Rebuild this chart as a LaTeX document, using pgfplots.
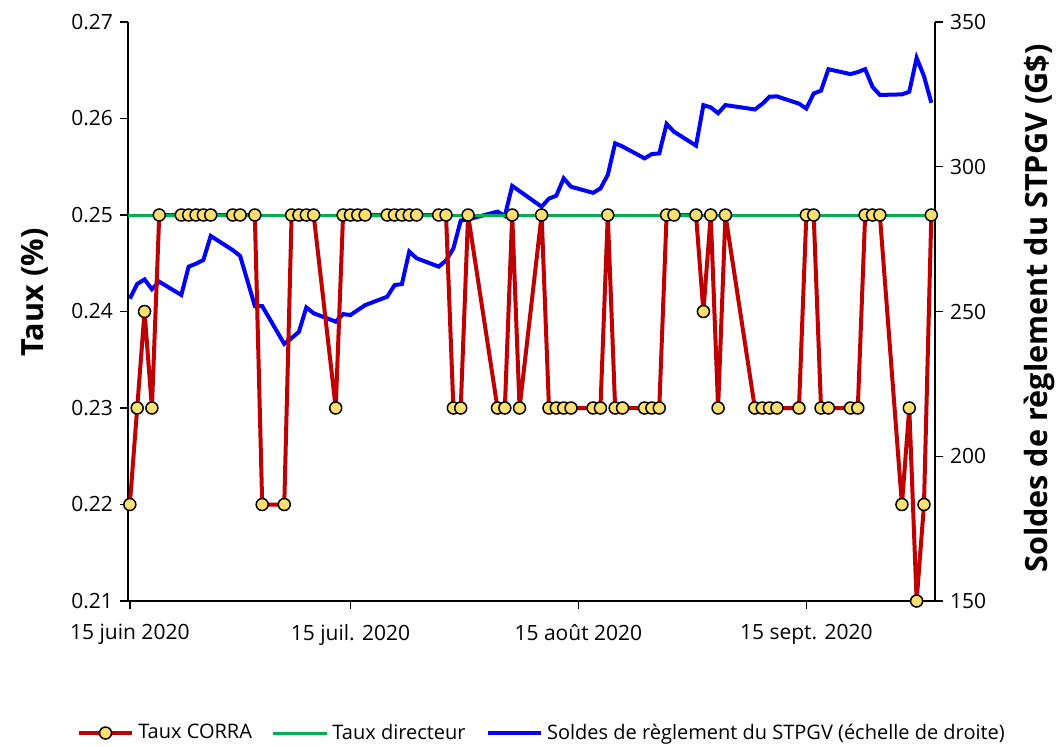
\documentclass[border=0pt]{standalone}
\usepackage{fontspec}
\setmainfont{Open Sans}
\usepackage{pgfplots}
\pgfplotsset{compat=1.18}
\usepackage{pgfplotstable}

\definecolor{corra}{RGB}{192,0,0}
\definecolor{direct}{RGB}{0,176,80}
\definecolor{stpgv}{RGB}{0,0,255}
\definecolor{mk}{RGB}{255,224,110}

% day 0 = 15 June 2020
\pgfplotstableread{
d v
0 0.22
1 0.23
2 0.24
3 0.23
4 0.25
7 0.25
8 0.25
9 0.25
10 0.25
11 0.25
14 0.25
15 0.25
17 0.25
18 0.22
21 0.22
22 0.25
23 0.25
24 0.25
25 0.25
28 0.23
29 0.25
30 0.25
31 0.25
32 0.25
35 0.25
36 0.25
37 0.25
38 0.25
39 0.25
42 0.25
43 0.25
44 0.23
45 0.23
46 0.25
50 0.23
51 0.23
52 0.25
53 0.23
56 0.25
57 0.23
58 0.23
59 0.23
60 0.23
63 0.23
64 0.23
65 0.25
66 0.23
67 0.23
70 0.23
71 0.23
72 0.23
73 0.25
74 0.25
77 0.25
78 0.24
79 0.25
80 0.23
81 0.25
85 0.23
86 0.23
87 0.23
88 0.23
91 0.23
92 0.25
93 0.25
94 0.23
95 0.23
98 0.23
99 0.23
100 0.25
101 0.25
102 0.25
105 0.22
106 0.23
107 0.21
108 0.22
109 0.25
}\corratable

\pgfplotstableread{
d v
0 254.4
1 259.5
2 261.1
3 257.7
4 260.3
7 255.7
8 265.5
9 266.5
10 267.8
11 276.1
14 271.2
15 269.2
17 251.9
18 251.9
21 238.8
22 240.8
23 243.0
24 251.4
25 249.4
28 246.5
29 249.1
30 248.8
31 250.5
32 252.2
35 255.1
36 259.1
37 259.5
38 270.7
39 268.4
42 265.5
43 267.6
44 271.8
45 281.4
46 281.8
50 284.5
51 283.0
52 293.4
53 291.6
56 286.2
57 289.0
58 290.0
59 296.0
60 293.1
63 291.0
64 292.5
65 297.2
66 308.1
67 307.0
70 302.9
71 304.4
72 304.6
73 314.8
74 312.1
77 307.3
78 321.3
79 320.5
80 318.5
81 321.3
85 319.8
86 321.7
87 324.2
88 324.3
91 321.8
92 320.1
93 325.3
94 326.3
95 333.7
98 332.0
99 332.7
100 333.7
101 327.6
102 324.8
105 325.0
106 325.9
107 337.6
108 331.3
109 322.1
}\stpgvtable

\begin{document}
\begin{tikzpicture}[font=\fontsize{10.5}{12}\selectfont]
\useasboundingbox (-64pt,-72.5pt) rectangle (465pt,300.5pt);
\pgfplotsset{common/.style={
  at={(0,0)}, anchor=south west, scale only axis,
  width=403.5pt, height=289.5pt,
  xmin=-0.25, xmax=109.5,
  tick align=outside, major tick length=4pt,
  tick style={black, line width=0.7pt},
  axis line style={black, line width=0.7pt},
  /pgf/number format/assume math mode=true,
  ticklabel style={font=\fontsize{10.5}{12}\selectfont, text=black},
  label style={font=\bfseries\fontsize{15.3}{17}\selectfont},
}}
\begin{axis}[common,
  axis x line=none, axis y line*=right,
  ymin=150, ymax=350, ytick={150,200,250,300,350},
  ylabel={Soldes de règlement du STPGV (G\$)},
  ylabel style={at={(axis description cs:1.13,0.505)}, anchor=center},
]
\addplot[stpgv, line width=2pt, mark=none] table[x=d,y=v]{\stpgvtable};
\end{axis}
\begin{axis}[common,
  axis x line*=bottom, axis y line*=left,
  ymin=0.21, ymax=0.27, ytick={0.21,0.22,0.23,0.24,0.25,0.26,0.27},
  yticklabel style={/pgf/number format/.cd, fixed, fixed zerofill, precision=2},
  xtick={0,30,61,92},
  xticklabels={15 juin 2020, 15 juil. 2020, 15 août 2020, 15 sept. 2020},
  xticklabel style={yshift=-4pt},
  ylabel={Taux (\%)},
  ylabel style={at={(axis description cs:-0.115,0.533)}, anchor=center},
  legend style={at={(axis description cs:0.514,-0.228)}, anchor=center,
    draw=none, fill=none, legend columns=3,
    font=\fontsize{10}{12}\selectfont,
    /tikz/every even column/.append style={column sep=8pt}},
  legend cell align=left,
  legend image code/.code={\draw[mark repeat=2,mark phase=2] plot coordinates {(0cm,0cm) (0.47cm,0cm) (0.94cm,0cm)};},
]
\addplot[corra, line width=2pt, mark=none, forget plot] table[x=d,y=v]{\corratable};
\addplot[direct, line width=1.5pt, mark=none, forget plot] coordinates {(-0.25,0.25) (109.5,0.25)};
\addplot[only marks, mark=*, mark size=3pt, mark options={fill=mk, draw=black, line width=0.75pt}, forget plot] table[x=d,y=v]{\corratable};
\addlegendimage{corra, line width=2pt, mark=*, mark size=3pt, mark options={fill=mk, draw=black, line width=0.75pt}}
\addlegendentry{Taux CORRA}
\addlegendimage{direct, line width=1.5pt}
\addlegendentry{Taux directeur}
\addlegendimage{stpgv, line width=2pt}
\addlegendentry{Soldes de règlement du STPGV (échelle de droite)}
\end{axis}
\end{tikzpicture}
\end{document}
